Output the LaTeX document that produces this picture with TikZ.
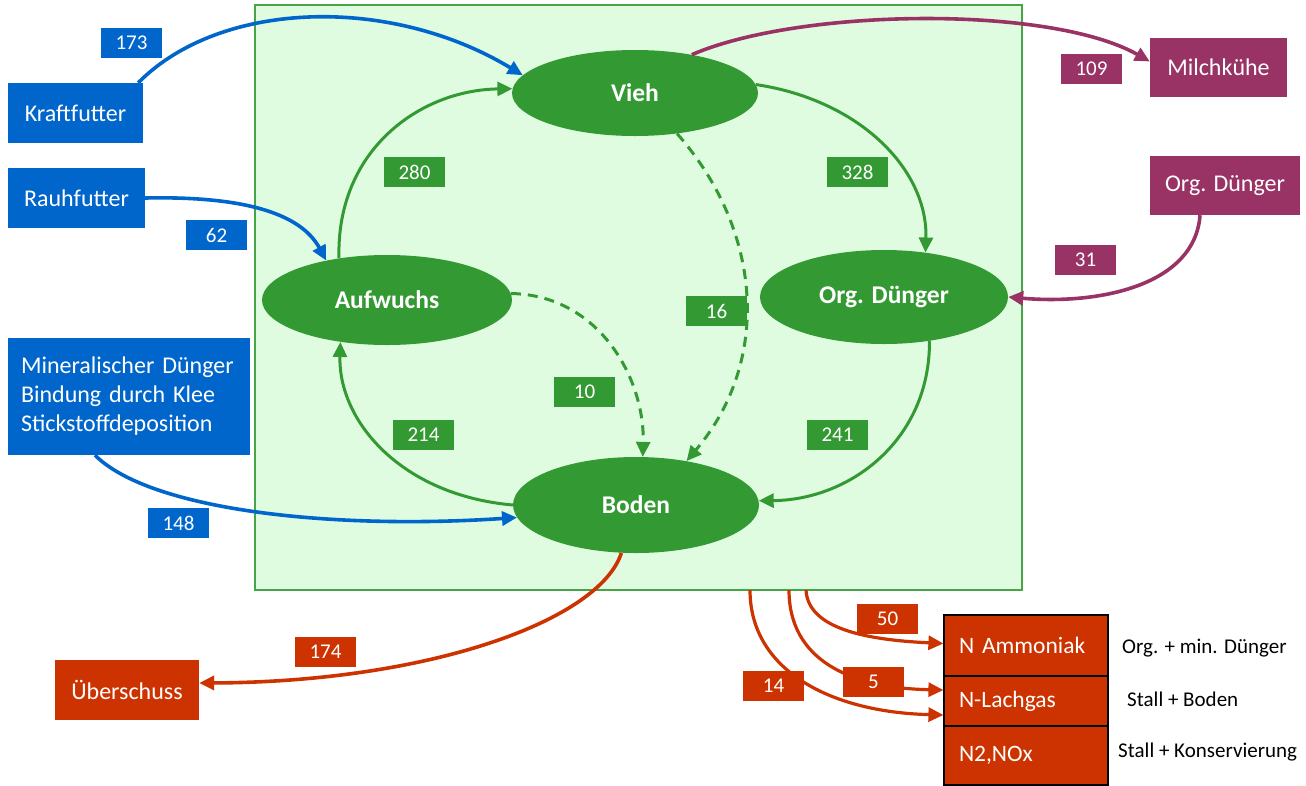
\documentclass[tikz,border=0pt]{standalone}
\usepackage{fontspec}
\setmainfont{Carlito}
\usetikzlibrary{arrows.meta,shapes.geometric}
\definecolor{cblue}{HTML}{0066CC}
\definecolor{cgreen}{HTML}{339933}
\definecolor{cpurple}{HTML}{993366}
\definecolor{cred}{HTML}{CC3300}
\definecolor{lgreen}{HTML}{E0FCE0}
\definecolor{bgreen}{HTML}{47A447}
\begin{document}
\begin{tikzpicture}[x=1pt,y=-1pt,
  sbox/.style={fill=#1, text=white, inner sep=0pt, font=\fontsize{24}{29}\selectfont},
  lab/.style={fill=#1, text=white, minimum width=61pt, minimum height=30pt, inner sep=0pt, font=\fontsize{21}{25}\selectfont},
  ell/.style={ellipse, fill=cgreen, text=white, inner sep=0pt, font=\bfseries\fontsize{25.5}{30}\selectfont},
  nbox/.style={fill=cred, draw=black, line width=1.2pt, text=white, inner sep=0pt, inner xsep=15pt, text width=134pt, align=left, minimum height=#1, font=\fontsize{23.5}{28}\selectfont},
  note/.style={text=black, inner sep=0pt, font=\fontsize{21}{25}\selectfont},
  flow/.style={line width=3.6pt, -{Triangle[length=15pt,width=14pt]}},
  gflow/.style={line width=3pt, draw=cgreen, -{Triangle[length=15pt,width=14pt]}},
  dflow/.style={gflow, dash pattern=on 10pt off 7pt}]
\useasboundingbox (0,0) rectangle (1306,785);

% system boundary
\node[draw=bgreen, fill=lgreen, line width=2pt, minimum width=767pt, minimum height=585pt, inner sep=0pt] (farm) at (638.5,297.5) {};

% ellipses
\node[ell, minimum width=246pt, minimum height=86pt] (vieh) at (635,93) {Vieh};
\node[ell, minimum width=250pt, minimum height=90pt] (aufw) at (387,300) {Aufwuchs};
\node[ell, minimum width=248pt, minimum height=94pt] (orgd) at (884,297) {Org. Dünger};
\node[ell, minimum width=246pt, minimum height=96pt] (boden) at (636,505) {Boden};

% outside boxes
\node[sbox=cblue, minimum width=135pt, minimum height=60pt] (kraft) at (75.5,113) {Kraftfutter};
\node[sbox=cblue, minimum width=137pt, minimum height=60pt] (rauh) at (76.5,198) {Rauhfutter};
\node[sbox=cblue, minimum height=117pt, text width=216pt, inner xsep=13pt, align=left,
      font=\fontsize{24}{29}\selectfont] (mineral) at (129,396.5)
      {Mineralischer Dünger\\Bindung durch Klee\\Stickstoffdeposition};
\node[sbox=cred, minimum width=144pt, minimum height=60pt] (ueber) at (127,690) {Überschuss};
\node[sbox=cpurple, minimum width=137pt, minimum height=59pt] (milch) at (1218.5,67.5) {Milchkühe};
\node[sbox=cpurple, minimum width=150pt, minimum height=59pt] (orgdb) at (1225,185.5) {Org. Dünger};

\node[nbox=61pt] (amm) at (1026,645.5) {N Ammoniak};
\node[nbox=50pt] (lach) at (1026,701) {N-Lachgas};
\node[nbox=59pt] (nox) at (1026,755.5) {N2,NOx};
\node[note, anchor=west] (t1) at (1122,648) {Org. + min. Dünger};
\node[note, anchor=west] (t2) at (1127,699) {Stall + Boden};
\node[note, anchor=west] (t3) at (1118,752) {Stall + Konservierung};

\coordinate (r1) at (750,590);
\coordinate (r2) at (789,590);
\coordinate (r3) at (806,590);

% inner green flows
\draw[gflow] (aufw.139) .. controls (336,150) and (420,90) .. (vieh.178);
\draw[gflow] (vieh.4) .. controls (860,100) and (928,170) .. (orgd.47);
\draw[gflow] (orgd.-44) .. controls (930,440) and (850,500) .. (boden.2);
\draw[gflow] (boden.180) .. controls (400,495) and (338,420) .. (aufw.-138);
\draw[dflow] (aufw.3) .. controls (600,295) and (645,380) .. (boden.82);
\draw[dflow] (vieh.-44) .. controls (762,230) and (772,360) .. (boden.41);

% inputs
\draw[flow, draw=cblue] ([xshift=-5pt]kraft.north east) .. controls (220,0) and (390,-5) .. (vieh.171);
\draw[flow, draw=cblue] (rauh.east) .. controls (240,196) and (300,212) .. (aufw.147);
\draw[flow, draw=cblue] ([xshift=-34pt]mineral.south) .. controls (150,510) and (330,530) .. (boden.186);
\draw[flow, draw=cpurple] (vieh.34) .. controls (800,8) and (1050,5) .. ([yshift=6pt]milch.west);
\draw[flow, draw=cpurple] ([xshift=-25pt]orgdb.south) .. controls (1195,285) and (1100,305) .. (orgd.east);

% losses
\draw[flow, draw=cred] (boden.-107) .. controls (600,620) and (430,682) .. ([yshift=7pt]ueber.east);
\draw[flow, draw=cred, line width=3.2pt] (r3) .. controls (808,630) and (870,640) .. ([yshift=2pt]amm.west);
\draw[flow, draw=cred, line width=3.2pt] (r2) .. controls (789,660) and (850,688) .. ([yshift=11pt]lach.west);
\draw[flow, draw=cred, line width=3.2pt] (r1) .. controls (750,670) and (830,712) .. ([yshift=-14pt]lach.west);

% labels
\node[lab=cblue] (l173) at (131.5,43) {173};
\node[lab=cblue] (l62) at (216.5,235) {62};
\node[lab=cblue] (l148) at (178.5,523) {148};
\node[lab=cgreen] (l280) at (414.5,172) {280};
\node[lab=cgreen] (l328) at (857.5,172) {328};
\node[lab=cgreen] (l16) at (716.5,311) {16};
\node[lab=cgreen] (l10) at (584.5,392) {10};
\node[lab=cgreen] (l214) at (423.5,435) {214};
\node[lab=cgreen] (l241) at (837.5,435) {241};
\node[lab=cpurple] (l109) at (1091.5,68.5) {109};
\node[lab=cpurple] (l31) at (1085.5,259.5) {31};
\node[lab=cred] (l174) at (325.5,651.5) {174};
\node[lab=cred] (l50) at (887.5,619) {50};
\node[lab=cred] (l5) at (873.5,682) {5};
\node[lab=cred] (l14) at (773.5,685.5) {14};
\end{tikzpicture}
\end{document}
